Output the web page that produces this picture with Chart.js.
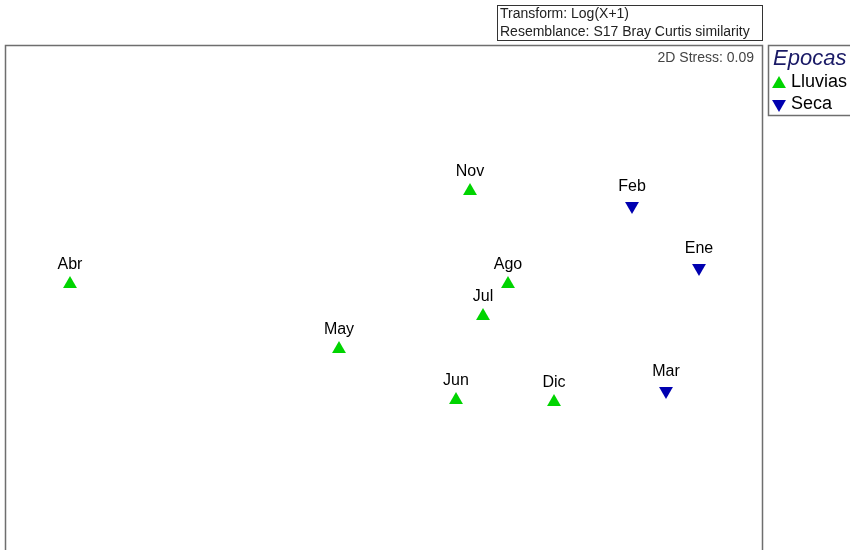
<!DOCTYPE html>
<html>
<head>
<meta charset="utf-8">
<script src="https://cdn.jsdelivr.net/npm/chart.js@4.5.0"></script>
<style>
  html, body { margin: 0; padding: 0; background: #fff; }
  #wrap { width: 850px; height: 550px; }
</style>
</head>
<body>
<div id="wrap"><canvas id="mds" width="850" height="550"></canvas></div>
<script>
// MDS ordination coordinates, one array per season
var lluviasLabels = ["Abr", "May", "Nov", "Ago", "Jul", "Jun", "Dic"];
var lluviasX = [-3.55, -0.86, 0.45, 0.83, 0.58, 0.31, 1.29];
var lluviasY = [-0.09, -0.74, 0.84, -0.09, -0.41, -1.25, -1.27];

var secaLabels = ["Feb", "Ene", "Mar"];
var secaX = [2.07, 2.74, 2.41];
var secaY = [0.69, 0.07, -1.16];

var stressText = "2D Stress: 0.09";
var infoLines = ["Transform: Log(X+1)", "Resemblance: S17 Bray Curtis similarity"];
var legendTitle = "Epocas";
var seasonNames = ["Lluvias", "Seca"];

const GREEN = "#00d400";
const BLUE = "#0000b0";

function toPoints(xs, ys, labels) {
	return xs.map((x, i) => ({ x: x, y: ys[i], label: labels[i] }));
}

function triangle(ctx, x, y, r, down) {
	const s = down ? -1 : 1;
	ctx.beginPath();
	ctx.moveTo(x, y - s * r);
	ctx.lineTo(x + Math.sin(Math.PI * 2 / 3) * r, y + s * r / 2);
	ctx.lineTo(x - Math.sin(Math.PI * 2 / 3) * r, y + s * r / 2);
	ctx.closePath();
	ctx.fill();
}

// frame, info box, stress value and season legend
const decorPlugin = {
	id: 'decor',
	beforeDraw(chart) {
		const ctx = chart.ctx;
		ctx.save();
		ctx.fillStyle = '#fff';
		ctx.fillRect(0, 0, chart.width, chart.height);

		ctx.strokeStyle = '#6e6e6e';
		ctx.lineWidth = 1.5;
		ctx.beginPath();
		ctx.moveTo(5.5, 560);
		ctx.lineTo(5.5, 45.5);
		ctx.lineTo(762.5, 45.5);
		ctx.lineTo(762.5, 560);
		ctx.stroke();

		ctx.strokeRect(768.5, 45.5, 100, 70);

		ctx.lineWidth = 1;
		ctx.strokeStyle = '#333';
		ctx.strokeRect(497.5, 5.5, 265, 35);

		ctx.font = '14px "Liberation Sans", Arial, sans-serif';
		ctx.fillStyle = '#222';
		ctx.textBaseline = 'middle';
		ctx.textAlign = 'left';
		ctx.fillText(infoLines[0], 500, 14);
		ctx.fillText(infoLines[1], 500, 32);

		ctx.fillStyle = '#444';
		ctx.textAlign = 'right';
		ctx.fillText(stressText, 754, 58);

		ctx.textAlign = 'left';
		ctx.fillStyle = '#1a1a66';
		ctx.font = 'italic 22px "Liberation Sans", Arial, sans-serif';
		ctx.fillText(legendTitle, 773, 59);

		ctx.font = '18px "Liberation Sans", Arial, sans-serif';
		ctx.fillStyle = GREEN;
		triangle(ctx, 779, 84, 8, false);
		ctx.fillStyle = BLUE;
		triangle(ctx, 779, 104, 8, true);
		ctx.fillStyle = '#000';
		ctx.fillText(seasonNames[0], 791, 82);
		ctx.fillText(seasonNames[1], 791, 104);
		ctx.restore();
	}
};

// sample names above each marker
const labelPlugin = {
	id: 'pointNames',
	afterDatasetsDraw(chart) {
		const ctx = chart.ctx;
		const xs = chart.scales.x, ys = chart.scales.y;
		ctx.save();
		ctx.font = '16px "Liberation Sans", Arial, sans-serif';
		ctx.fillStyle = '#000';
		ctx.textAlign = 'center';
		ctx.textBaseline = 'middle';
		chart.data.datasets.forEach(ds => {
			ds.data.forEach(p => {
				ctx.fillText(p.label, xs.getPixelForValue(p.x), ys.getPixelForValue(p.y) - 19);
			});
		});
		ctx.restore();
	}
};

new Chart(document.getElementById('mds'), {
	type: 'scatter',
	data: {
		datasets: [{
			label: seasonNames[0],
			data: toPoints(lluviasX, lluviasY, lluviasLabels),
			pointStyle: 'triangle',
			pointRadius: 8,
			pointRotation: 0,
			backgroundColor: GREEN,
			borderColor: GREEN,
			borderWidth: 0
		}, {
			label: seasonNames[1],
			data: toPoints(secaX, secaY, secaLabels),
			pointStyle: 'triangle',
			pointRadius: 8,
			pointRotation: 180,
			backgroundColor: BLUE,
			borderColor: BLUE,
			borderWidth: 0
		}]
	},
	options: {
		responsive: false,
		animation: false,
		layout: { padding: 0, autoPadding: false },
		scales: {
			x: { type: 'linear', min: -4.25, max: 4.25, display: false },
			y: { type: 'linear', min: -2.75, max: 2.75, display: false }
		},
		plugins: {
			legend: { display: false },
			tooltip: { enabled: false }
		}
	},
	plugins: [decorPlugin, labelPlugin]
});
</script>
</body>
</html>
